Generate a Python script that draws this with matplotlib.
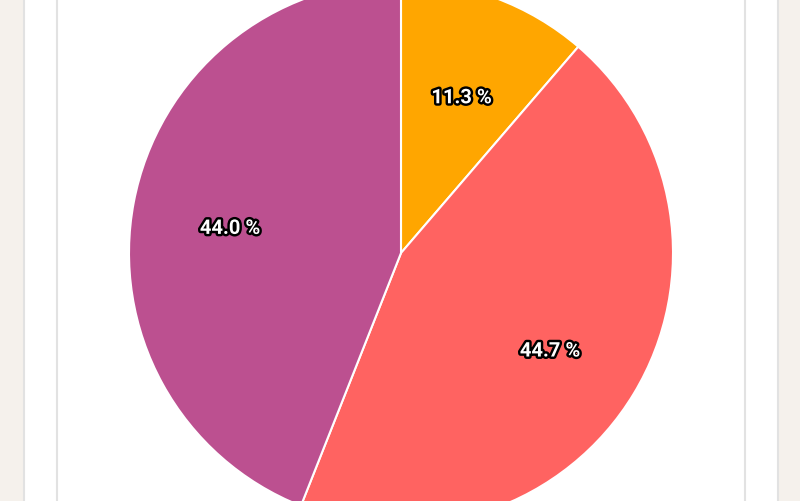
import matplotlib.pyplot as plt
import matplotlib.patheffects as pe
from matplotlib.patches import Rectangle

labels = ["A", "B", "C"]
shares = [11.3, 44.7, 44.0]
colors = ["#FFA600", "#FF6361", "#BC5090"]

fig = plt.figure(figsize=(8, 5.01), dpi=100)
fig.patch.set_facecolor("#F5F1EC")
ax = fig.add_axes([0, 0, 1, 1])

# white card with thin borders
ax.add_patch(Rectangle((24, -5), 754, 511, facecolor="white", edgecolor="none", zorder=0))
for x in [24, 57, 745, 778]:
    ax.axvline(x, color="#E2E2E2", lw=1.5, zorder=1)

wedges, texts, autotexts = ax.pie(
    shares, colors=colors, startangle=90, counterclock=False,
    center=(401, 248), radius=272, autopct="%.1f %%", pctdistance=0.64,
    wedgeprops=dict(edgecolor="white", linewidth=1.5),
    textprops=dict(color="white", fontsize=14.5, fontweight="bold", family="Roboto"),
    frame=False,
)
ax.set_xlim(0, 800)
ax.set_ylim(0, 501)
ax.set_aspect("equal")
ax.axis("off")
for t in autotexts:
    x, y = t.get_position()
    t.set_position((x, y - 8))
    t.set_path_effects([pe.withStroke(linewidth=3.5, foreground="black")])

fig.savefig("out.png", dpi=100, facecolor=fig.get_facecolor())
